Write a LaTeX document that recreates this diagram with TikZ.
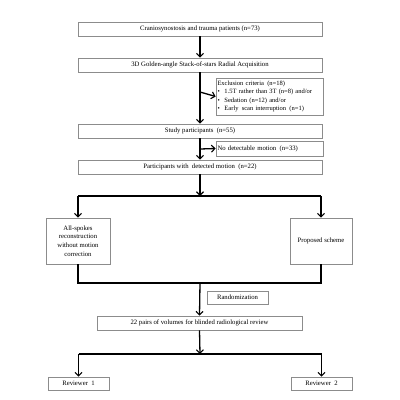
\documentclass[tikz,border=0pt]{standalone}
\usepackage{fontspec}
\setmainfont{Liberation Serif}
\usetikzlibrary{arrows.meta}
\begin{document}
\begin{tikzpicture}[x=1pt,y=-1pt,
  box/.style={draw=black!45,line width=0.7pt,fill=white,inner sep=1pt,font=\fontsize{6.7}{8.6}\selectfont,align=center},
  flow/.style={line width=1.3pt,black},
  arr/.style={flow,-{Straight Barb[length=3.5pt,width=7pt,line width=1.1pt]}}]
\useasboundingbox (0,0) rectangle (400,400);
\node[box,minimum width=244pt,minimum height=14pt] (b1) at (200,29) {Craniosynostosis and trauma patients (n=73)};
\node[box,minimum width=244pt,minimum height=14pt] (b2) at (200,65) {3D Golden-angle Stack-of-stars Radial Acquisition};
\node[box,minimum width=107pt,minimum height=37pt,align=left,text width=104pt,font=\fontsize{6.5}{8.6}\selectfont] (ex) at (269.5,96.5) {Exclusion criteria\enspace(n=18)\\
\makebox[7pt][l]{\textbullet}1.5T rather than 3T (n=8) and/or\\
\makebox[7pt][l]{\textbullet}Sedation (n=12) and/or\\
\makebox[7pt][l]{\textbullet}Early\enspace scan interruption\enspace(n=1)};
\node[box,minimum width=244pt,minimum height=14pt] (b3) at (200,131) {Study participants\enspace(n=55)};
\node[box,minimum width=107pt,minimum height=15pt,align=left,text width=104pt] (nm) at (269.5,148.5) {No detectable motion\enspace(n=33)};
\node[box,minimum width=244pt,minimum height=14pt] (b4) at (200,167) {Participants with\enspace detected motion\enspace(n=22)};
\node[box,minimum width=64pt,minimum height=46pt] (l) at (78,241) {All-spokes\\reconstruction\\without motion\\correction};
\node[box,minimum width=62pt,minimum height=46pt] (r) at (321,241) {Proposed scheme};
\node[box,minimum width=61pt,minimum height=13pt] (rand) at (237.5,297.5) {Randomization};
\node[box,minimum width=205pt,minimum height=14pt] (b5) at (199.5,323) {22 pairs of volumes for blinded radiological review};
\node[box,minimum width=61pt,minimum height=13pt] (r1) at (78.5,383.5) {Reviewer\enspace1};
\node[box,minimum width=61pt,minimum height=13pt] (r2) at (321.5,383.5) {Reviewer\enspace2};
\coordinate (e1) at (200,92);
\coordinate (e2) at (200,149);
\coordinate (s1) at (200,196);
\coordinate (j1) at (200,283);
\coordinate (s2) at (200,354);
\draw[arr] (b1.south) -- (b2.north);
\draw[arr] (b2.south) -- (b3.north);
\draw[arr] (e1) -- (ex.west);
\draw[arr] (b3.south) -- (b4.north);
\draw[arr] (e2) -- (nm.west);
\draw[arr] (b4.south) -- (s1);
\draw[flow] (l.north |- s1) -- (r.north |- s1);
\draw[arr] (l.north |- s1) -- (l.north);
\draw[arr] (r.north |- s1) -- (r.north);
\draw[flow] (l.south) -- (l.south |- j1) -- (r.south |- j1) -- (r.south);
\draw[arr] (j1) -- (b5.north);
\draw[arr] (b5.south) -- (s2);
\draw[flow] (r1.north |- s2) -- (r2.north |- s2);
\draw[arr] (r1.north |- s2) -- (r1.north);
\draw[arr] (r2.north |- s2) -- (r2.north);
\end{tikzpicture}
\end{document}
